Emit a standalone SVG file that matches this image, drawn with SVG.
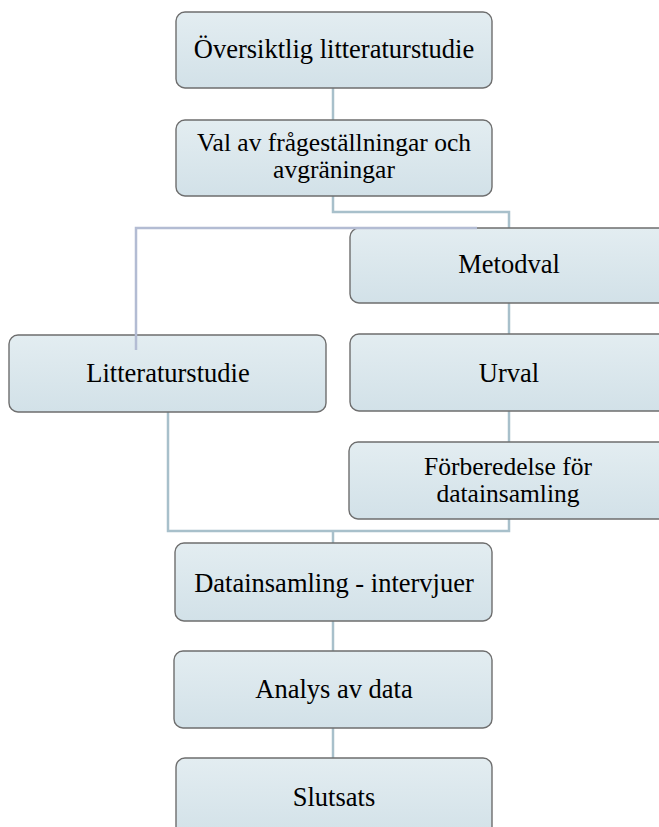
<svg xmlns="http://www.w3.org/2000/svg" width="659" height="827" viewBox="0 0 659 827">
<defs>
<linearGradient id="g" x1="0" y1="0" x2="0" y2="1">
<stop offset="0" stop-color="#e3edf1"/>
<stop offset="1" stop-color="#d2e1e8"/>
</linearGradient>
<style>
.box{fill:url(#g);stroke:#6e6e6e;stroke-width:1.4}
.c{fill:none;stroke:#a8c0cb;stroke-width:2.5}
.l{fill:none;stroke:#b3bcd3;stroke-width:2.5}
</style>
</defs>
<rect width="659" height="827" fill="#fff"/>
<g id="connectors">
<line class="c" x1="333" y1="88" x2="333" y2="120"/>
<polyline class="c" points="333,196 333,212 509,212 509,228"/>
<line class="c" x1="509" y1="303" x2="509" y2="335"/>
<line class="c" x1="509" y1="411" x2="509" y2="442"/>
<polyline class="c" points="168,412 168,531 509,531 509,518"/>
<line class="c" x1="333" y1="531" x2="333" y2="543"/>
<line class="c" x1="333" y1="621" x2="333" y2="651"/>
<line class="c" x1="333" y1="728" x2="333" y2="758"/>
</g>
<g font-family="Liberation Serif, Times New Roman, serif" font-size="26.5" fill="#000" text-anchor="middle">
<g id="n1"><rect class="box" x="176" y="12" width="316" height="76" rx="9"/><text x="334" y="58">Översiktlig litteraturstudie</text></g>
<g id="n2"><rect class="box" x="176" y="120" width="316" height="76" rx="9"/><text x="334" y="151" font-size="25.5">Val av frågeställningar och</text><text x="334" y="178" font-size="25.5">avgräningar</text></g>
<g id="n3"><rect class="box" x="350" y="228" width="318" height="75" rx="9"/><text x="509" y="273">Metodval</text></g>
<g id="n4"><rect class="box" x="9" y="335" width="317" height="77" rx="9"/><text x="168" y="382">Litteraturstudie</text></g>
<g id="n5"><rect class="box" x="350" y="334" width="318" height="77" rx="9"/><text x="509" y="382">Urval</text></g>
<g id="n6"><rect class="box" x="349" y="442" width="319" height="77" rx="9"/><text x="508" y="475" font-size="25.5">Förberedelse för</text><text x="508" y="502" font-size="25.5">datainsamling</text></g>
<g id="n7"><rect class="box" x="175" y="543" width="317" height="78" rx="9"/><text x="334" y="592">Datainsamling - intervjuer</text></g>
<g id="n8"><rect class="box" x="174" y="651" width="318" height="77" rx="9"/><text x="334" y="698">Analys av data</text></g>
<g id="n9"><rect class="box" x="176" y="758" width="316" height="80" rx="9"/><text x="334" y="806">Slutsats</text></g>
</g>
<g id="connectors-overlay">
<polyline class="l" points="477,228 136,228 136,350"/>
</g>
</svg>
